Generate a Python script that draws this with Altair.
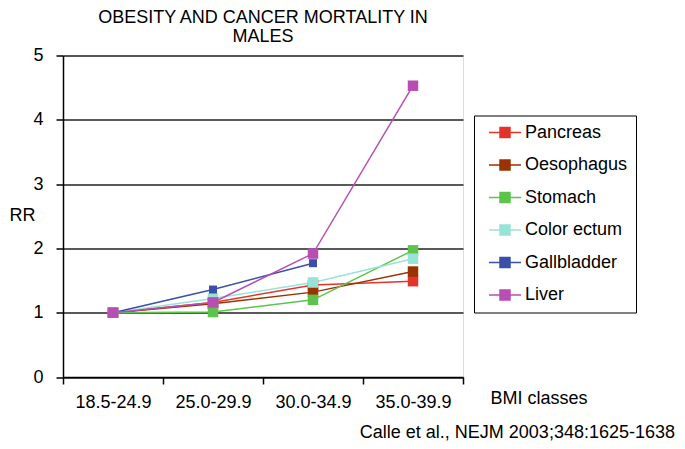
import altair as alt
import pandas as pd

bmi_classes = ["18.5-24.9", "25.0-29.9", "30.0-34.9", "35.0-39.9"]
series_names = ["Pancreas", "Oesophagus", "Stomach", "Color ectum", "Gallbladder", "Liver"]
series_colors = ["#E3342C", "#993300", "#5CC44C", "#99E2D8", "#3A4FA8", "#B84DB4"]

pancreas = [1.0, 1.16, 1.43, 1.49]
oesophagus = [1.0, 1.14, 1.32, 1.64]
stomach = [1.0, 1.01, 1.20, 1.97]
color_ectum = [1.0, 1.22, 1.47, 1.84]
gallbladder = [1.0, 1.36, 1.77, None]
liver = [1.0, 1.16, 1.92, 4.53]

values = [pancreas, oesophagus, stomach, color_ectum, gallbladder, liver]
rows = []
for name, vals in zip(series_names, values):
    for i, (cls, v) in enumerate(zip(bmi_classes, vals)):
        if v is not None:
            rows.append({"series": name, "bmi": cls, "idx": i, "rr": v})
df = pd.DataFrame(rows)

FONT = "Liberation Sans"
FS = 18

x_enc = alt.X(
    "bmi:N",
    sort=bmi_classes,
    bandPosition=0.5,
    scale=alt.Scale(type="band", domain=bmi_classes, paddingInner=0, paddingOuter=0),
    axis=alt.Axis(
        title="BMI classes", titleAngle=0, titleAlign="left", titleBaseline="middle",
        titleX=427, titleY=21, titleFont=FONT, titleFontSize=FS, titleFontWeight="normal",
        titleColor="black",
        labelAngle=0, labelFont=FONT, labelFontSize=FS, labelColor="black", labelPadding=9,
        tickBand="extent", tickSize=7, tickColor="black", tickWidth=1.5,
        domainColor="black", domainWidth=1.5, grid=False,
    ),
)
y_enc = alt.Y(
    "rr:Q",
    scale=alt.Scale(domain=[0, 5], nice=False, zero=True),
    axis=alt.Axis(
        values=[0, 1, 2, 3, 4, 5], format="d",
        title="RR", titleAngle=0, titleAlign="left", titleBaseline="middle",
        titleX=-54, titleY=159.5, titleFont=FONT, titleFontSize=FS, titleFontWeight="normal",
        titleColor="black",
        labelFont=FONT, labelFontSize=FS, labelColor="black", labelPadding=13,
        tickSize=7, tickColor="black", tickWidth=1.5,
        domainColor="black", domainWidth=1.5,
        grid=True, gridColor="#222222", gridWidth=1.5,
    ),
)

color_enc = alt.Color(
    "series:N",
    sort=series_names,
    scale=alt.Scale(domain=series_names, range=series_colors),
    legend=alt.Legend(
        title=None, orient="none", legendX=411, legendY=60, direction="vertical",
        symbolType="M-2,0H2M-0.625,-0.625H0.625V0.625H-0.625Z", symbolSize=256,
        symbolStrokeWidth=1.5, symbolOpacity=1, symbolOffset=14,
        labelFont=FONT, labelFontSize=FS, labelColor="black", labelOffset=11,
        rowPadding=14.5, padding=8, strokeColor="black", fillColor="white",
    ),
)

lines = alt.Chart(df).mark_line(strokeWidth=1.5).encode(
    x=x_enc, y=y_enc, color=color_enc, order="idx:Q"
)
points = alt.Chart(df).mark_point(shape="square", filled=True, opacity=1).encode(
    x=x_enc, y=y_enc, color=color_enc,
    size=alt.condition(alt.datum.series == "Gallbladder", alt.value(64), alt.value(110)),
)

cite_df = pd.DataFrame({"t": ["Calle et al., NEJM 2003;348:1625-1638"]})
cite = alt.Chart(cite_df).mark_text(
    font=FONT, fontSize=FS, color="black", align="right", baseline="middle"
).encode(text="t:N", x=alt.value(612), y=alt.value(377.5))

chart = alt.layer(lines, points, cite).properties(
    width=400, height=321.5,
    title=alt.TitleParams(
        text=["OBESITY AND CANCER MORTALITY IN", "MALES"],
        anchor="middle", font=FONT, fontSize=FS, fontWeight="normal", color="black",
        lineHeight=19, offset=1,
    ),
    autosize=alt.AutoSizeParams(type="none"),
    padding={"left": 55, "top": 47.5, "right": 214, "bottom": 64},
).configure_view(stroke="black", strokeWidth=1.5).configure(background="white")

chart.save("out.html", embed_options={"renderer": "svg", "actions": False})
